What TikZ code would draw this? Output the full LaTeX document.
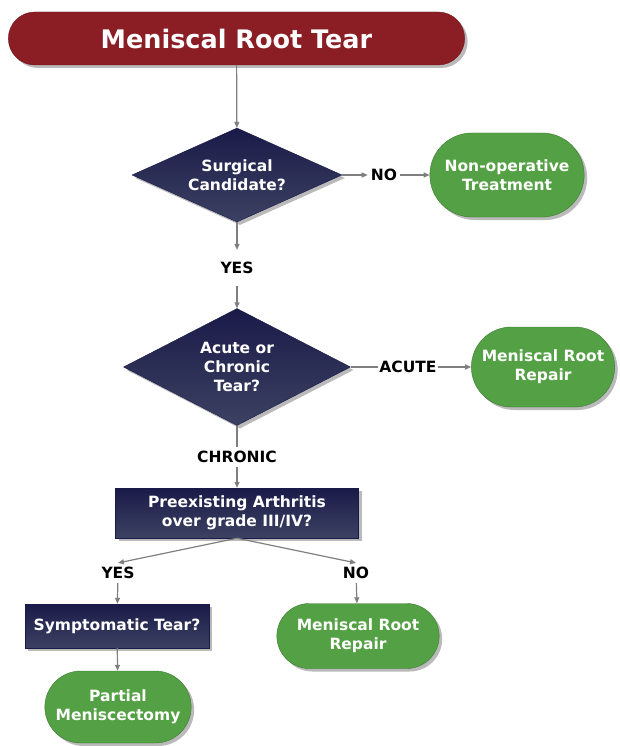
\documentclass[tikz,border=0pt]{standalone}
\usepackage{fontspec}
\setmainfont{DejaVu Sans}
\usetikzlibrary{shapes.geometric, shapes.misc, shadows, arrows.meta}

\definecolor{rootred}{HTML}{8B1D24}
\definecolor{navytop}{HTML}{1A1A48}
\definecolor{navybot}{HTML}{3C4262}
\definecolor{okgreen}{HTML}{54A044}
\definecolor{okgreenline}{HTML}{3E7A34}
\definecolor{linegray}{HTML}{7F7F7F}

\newcommand{\boxfont}{\bfseries\fontsize{15.5}{19}\selectfont}

\tikzset{
  shadowed/.style={drop shadow={shadow xshift=3pt, shadow yshift=-3pt, fill=black!60, opacity=.45}},
  headbox/.style={rounded rectangle, fill=rootred, draw=rootred!80!black, text=white,
    font=\bfseries\fontsize{25.5}{30}\selectfont, minimum width=463pt, minimum height=53pt, shadowed},
  askdiamond/.style={diamond, aspect=2, inner sep=0pt, top color=navytop, bottom color=navybot,
    draw=navytop, text=white, font=\boxfont, align=center, shadowed},
  askbox/.style={rectangle, top color=navytop, bottom color=navybot, draw=navytop, text=white,
    font=\boxfont, align=center, shadowed},
  endbox/.style={rounded rectangle, fill=okgreen, draw=okgreenline, text=white,
    font=\boxfont, align=center, shadowed},
  lbl/.style={font=\boxfont, inner xsep=3pt, inner ysep=4pt},
  conn/.style={draw=linegray, line width=1.2pt, -{Triangle[length=6pt, width=5pt]}},
  bare/.style={draw=linegray, line width=1.2pt}
}

\begin{document}
\begin{tikzpicture}[x=1pt, y=-1pt]

\useasboundingbox (0,0) rectangle (620,746);

\node[headbox] (root) at (236.5,38.5) {Meniscal Root Tear};

\node[askdiamond, minimum width=210pt, minimum height=94pt] (surg) at (237,175) {Surgical\\Candidate?};
\node[lbl] (no1) at (384,175) {NO};
\node[endbox, minimum width=161pt, minimum height=84pt] (nonop) at (507,175) {Non-operative\\Treatment};
\node[lbl, inner ysep=12pt] (yes1) at (237,268) {YES};

\node[askdiamond, minimum width=227pt, minimum height=117pt] (acch) at (237,367) {Acute or\\Chronic\\Tear?};
\node[lbl, inner xsep=1pt] (acute) at (408,367) {ACUTE};
\node[endbox, minimum width=150pt, minimum height=80pt] (repA) at (543,367) {Meniscal Root\\Repair};
\node[lbl] (chronic) at (237,457) {CHRONIC};

\node[askbox, minimum width=243pt, minimum height=50pt] (arth) at (237,513) {Preexisting Arthritis\\over grade III/IV?};
\node[lbl] (yes2) at (118,573) {YES};
\node[lbl] (no2) at (356,573) {NO};

\node[askbox, minimum width=184pt, minimum height=44pt] (symp) at (117,626) {Symptomatic Tear?};
\node[endbox, minimum width=169pt, minimum height=65pt] (repB) at (358,636) {Meniscal Root\\Repair};
\node[endbox, minimum width=153pt, minimum height=72pt] (partial) at (118,707) {Partial\\Meniscectomy};

\draw[conn] (root) -- (surg);
\draw[conn] (surg) -- (no1);
\draw[conn] (no1) -- (nonop);
\draw[conn] (surg) -- (yes1);
\draw[conn] (yes1) -- (acch);
\draw[bare] (acch) -- (acute);
\draw[conn] (acute) -- (repA);
\draw[bare] (acch) -- (chronic);
\draw[conn] (chronic) -- (arth);
\draw[conn] (arth.south) -- (yes2.north);
\draw[conn] (arth.south) -- (no2.north);
\draw[conn] (yes2) -- (symp);
\draw[conn] (no2) -- (repB);
\draw[conn] (symp) -- (partial);

\end{tikzpicture}
\end{document}
